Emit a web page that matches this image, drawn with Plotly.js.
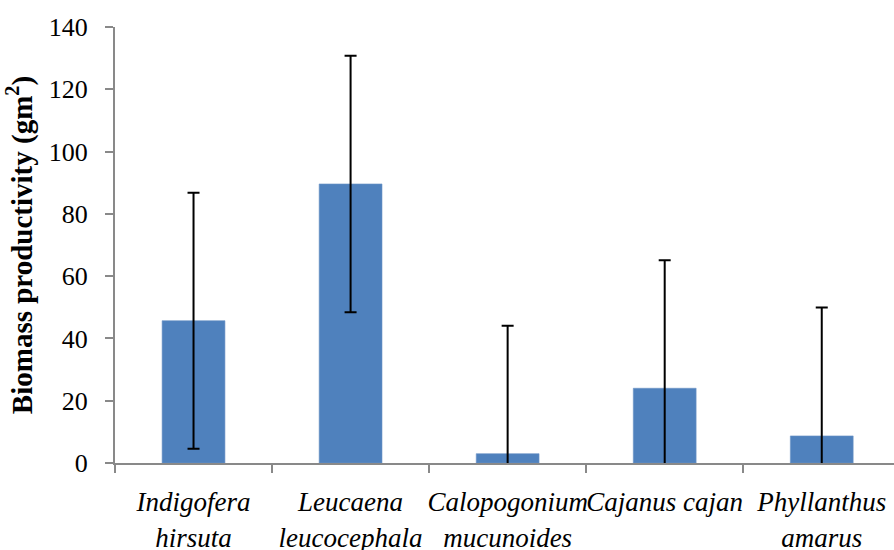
<!DOCTYPE html>
<html>
<head>
<meta charset="utf-8">
<script src="https://cdn.plot.ly/plotly-3.0.1.min.js"></script>
<style>
  html, body { margin: 0; padding: 0; background: #ffffff; }
  #chart { width: 894px; height: 550px; }
</style>
</head>
<body>
<div id="chart"></div>
<script>
// Species (two-line italic labels)
const species = [
  "Indigofera<br>hirsuta",
  "Leucaena<br>leucocephala",
  "Calopogonium<br>mucunoides",
  "Cajanus cajan",
  "Phyllanthus<br>amarus"
];

// Mean biomass productivity
const biomass = [45.7, 89.6, 3.0, 24.0, 8.7];

// Error (± deviation)
const biomassErr = [41.1, 41.2, 41.1, 41.1, 41.2];

const tickValues = [0, 20, 40, 60, 80, 100, 120, 140];

const serif = "Liberation Serif";
const axisGrey = "#898989";

const trace = {
  type: "bar",
  x: species,
  y: biomass,
  width: 0.4,
  marker: { color: "#4F81BD", line: { color: "#6B94C6", width: 0.6 } },
  error_y: {
    type: "data",
    array: biomassErr,
    visible: true,
    color: "#000000",
    thickness: 2,
    width: 6
  },
  hoverinfo: "x+y"
};

const layout = {
  width: 894,
  height: 550,
  margin: { l: 115, r: 0, t: 27, b: 87 },
  paper_bgcolor: "#ffffff",
  plot_bgcolor: "#ffffff",
  showlegend: false,
  font: { family: serif, color: "#000000" },
  xaxis: {
    type: "category",
    range: [-0.5, 4.46],
    showline: true,
    linecolor: axisGrey,
    linewidth: 2,
    ticks: "outside",
    tickson: "boundaries",
    ticklen: 8,
    tickwidth: 2,
    tickcolor: axisGrey,
    showgrid: false,
    zeroline: false,
    tickangle: 0,
    ticklabelstandoff: 14,
    tickfont: { family: serif, size: 27, color: "#000000", style: "italic" }
  },
  yaxis: {
    range: [0, 140],
    tickvals: tickValues,
    showline: true,
    linecolor: axisGrey,
    linewidth: 2,
    ticks: "outside",
    ticklen: 8,
    tickwidth: 2,
    tickcolor: axisGrey,
    showgrid: false,
    zeroline: false,
    ticklabelstandoff: 12,
    tickfont: { family: serif, size: 26, color: "#000000" },
    title: {
      text: "<b>Biomass productivity (gm<sup>2</sup>)</b>",
      font: { family: serif, size: 29, color: "#000000" },
      standoff: 8
    }
  }
};

Plotly.newPlot("chart", [trace], layout, { displayModeBar: false, staticPlot: true });
</script>
</body>
</html>
